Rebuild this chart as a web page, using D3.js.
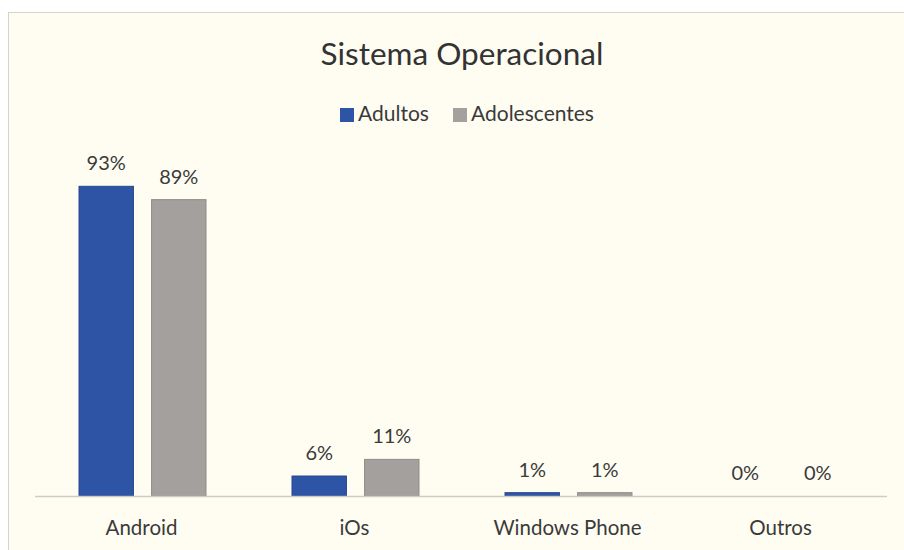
<!DOCTYPE html>
<html>
<head>
<meta charset="utf-8">
<script src="https://cdn.jsdelivr.net/npm/d3@7"></script>
<style>
  body { margin: 0; background: #ffffff; }
  text { font-family: Lato, "Noto Sans", sans-serif; fill: #3a3a3a; }
</style>
</head>
<body>
<div id="chart"></div>
<script>
var categories = ['Android', 'iOs', 'Windows Phone', 'Outros'];
var seriesNames = ['Adultos', 'Adolescentes'];
var adultos = [93, 6, 1, 0];
var adolescentes = [89, 11, 1, 0];

var width = 904, height = 550;
var colors = ['#2e55a5', '#a3a09d'];
var strokes = ['#24478f', '#8f8c89'];

var svg = d3.select('#chart').append('svg')
    .attr('width', width)
    .attr('height', height);

// cream panel
svg.append('rect')
    .attr('x', 8.5).attr('y', 12.5)
    .attr('width', width).attr('height', height)
    .attr('fill', '#fffdf2')
    .attr('stroke', '#d6d3cc');

var baseY = 496;
var x0 = d3.scaleBand().domain(categories).range([35, 887]);
var x1 = d3.scaleBand().domain(seriesNames).range([44, 171]).paddingInner(0.25);
var y = d3.scaleLinear().domain([0, 100]).range([baseY, baseY - 333]);

svg.append('text')
    .attr('x', 462).attr('y', 65)
    .attr('text-anchor', 'middle')
    .style('font-size', '31.5px')
    .style('fill', '#333')
    .text('Sistema Operacional');

// legend
var legendX = [340, 453];
seriesNames.forEach(function(name, i) {
    svg.append('rect')
        .attr('x', legendX[i]).attr('y', 108)
        .attr('width', 14).attr('height', 14)
        .attr('fill', colors[i]);
    svg.append('text')
        .attr('x', legendX[i] + 18).attr('y', 121)
        .style('font-size', '21px')
        .text(name);
});

var data = categories.map(function(c, i) {
    return { cat: c, values: [
        { name: seriesNames[0], value: adultos[i], idx: 0 },
        { name: seriesNames[1], value: adolescentes[i], idx: 1 }
    ]};
});

var groups = svg.selectAll('g.grp')
    .data(data)
    .enter().append('g')
    .attr('class', 'grp')
    .attr('transform', function(d) { return 'translate(' + x0(d.cat) + ',0)'; });

groups.selectAll('rect')
    .data(function(d) { return d.values; })
    .enter().append('rect')
    .attr('x', function(d) { return x1(d.name); })
    .attr('width', x1.bandwidth())
    .attr('y', function(d) { return y(d.value); })
    .attr('height', function(d) { return baseY - y(d.value); })
    .attr('fill', function(d) { return colors[d.idx]; })
    .attr('stroke', function(d) { return d.value > 0 ? strokes[d.idx] : 'none'; })
    .attr('stroke-width', 1);

groups.selectAll('text.val')
    .data(function(d) { return d.values; })
    .enter().append('text')
    .attr('class', 'val')
    .attr('x', function(d) { return x1(d.name) + x1.bandwidth() / 2; })
    .attr('y', function(d) { return y(d.value) - 16; })
    .attr('text-anchor', 'middle')
    .style('font-size', '20px')
    .text(function(d) { return d.value + '%'; });

// baseline
svg.append('line')
    .attr('x1', 35).attr('x2', 887)
    .attr('y1', baseY + 0.5).attr('y2', baseY + 0.5)
    .attr('stroke', '#cfccc6').attr('stroke-width', 1.5);

var xAxis = svg.append('g')
    .attr('transform', 'translate(0,' + baseY + ')')
    .call(d3.axisBottom(x0).tickSize(0).tickPadding(22));
xAxis.select('.domain').remove();
xAxis.selectAll('text')
    .attr('dy', null)
    .attr('y', 39)
    .style('font-size', '20.5px')
    .style('fill', '#3a3a3a')
    .style('font-family', 'Lato, "Noto Sans", sans-serif');
</script>
</body>
</html>
